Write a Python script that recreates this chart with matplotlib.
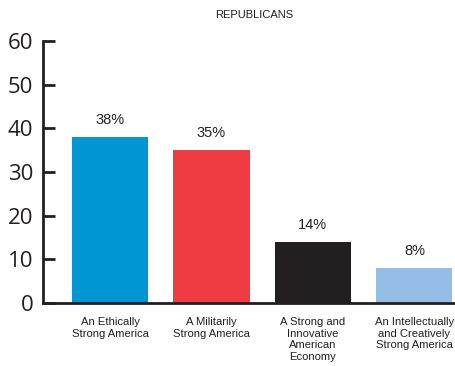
import matplotlib
matplotlib.use("Agg")
import matplotlib.pyplot as plt

categories = ["An Ethically\nStrong America", "A Militarily\nStrong America",
              "A Strong and\nInnovative\nAmerican\nEconomy",
              "An Intellectually\nand Creatively\nStrong America"]
values = [38, 35, 14, 8]
labels = ["38%", "35%", "14%", "8%"]
colors = ["#0095D3", "#EF3B42", "#231F20", "#94BDE5"]
yticks = [0, 10, 20, 30, 40, 50, 60]

fig = plt.figure(figsize=(4.56, 3.66), dpi=100)
ax = fig.add_axes([0.0943, 0.172, 0.9057, 0.716])
x = list(range(len(values)))
bars = ax.bar(x, values, width=0.75, color=colors)
for xi, v, lab in zip(x, values, labels):
    ax.annotate(lab, (xi, v), xytext=(0, 7), textcoords="offset points",
                ha="center", va="bottom", fontsize=10.5, family="Liberation Sans", color="#231F20")

ax.set_xlim(-0.66, 3.41)
ax.set_ylim(0, 60)
ax.set_yticks(yticks)
ax.set_yticklabels([str(t) for t in yticks], fontsize=16, family="Open Sans", color="#231F20")
ax.tick_params(axis="y", direction="in", length=8.5, width=2, color="#231F20", pad=7)
ax.set_xticks(x)
ax.set_xticklabels(categories, fontsize=8.1, family="Liberation Sans", color="#231F20",
                   va="top", linespacing=1.2)
ax.tick_params(axis="x", length=0, pad=10)
for s in ["top", "right"]:
    ax.spines[s].set_visible(False)
for s in ["left", "bottom"]:
    ax.spines[s].set_linewidth(2)
    ax.spines[s].set_color("#231F20")

fig.text(0.557, 0.958, "REPUBLICANS", ha="center", va="center", fontsize=8.0,
         family="Liberation Sans", color="#231F20")
fig.savefig("out.png", dpi=100)
